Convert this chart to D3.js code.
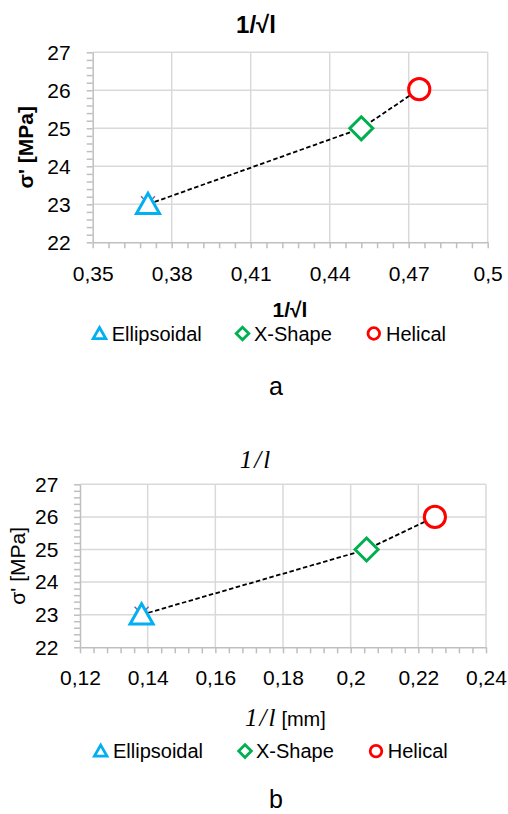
<!DOCTYPE html>
<html><head><meta charset="utf-8">
<script src="https://cdn.jsdelivr.net/npm/d3@7"></script>
<style>
body{margin:0;background:#fff}
svg{display:block;font-family:"Liberation Sans",Arial,sans-serif}
</style></head><body><svg id="c" width="508" height="814"></svg>
<script>
// Series shared by both panels
const seriesNames = ["Ellipsoidal", "X-Shape", "Helical"];
const seriesColors = ["#00b0f0", "#00b050", "#ff0000"];
const seriesShapes = ["triangle", "diamond", "circle"];

// Panel a: stress vs 1/sqrt(l)
const invSqrtL = [0.371, 0.452, 0.474];
const sigmaA = [23.0, 25.0, 26.03];
const xTicksA = [0.35, 0.38, 0.41, 0.44, 0.47, 0.5];

// Panel b: stress vs 1/l
const invL = [0.1382, 0.2047, 0.2249];
const sigmaB = [23.0, 25.0, 26.0];
const xTicksB = [0.12, 0.14, 0.16, 0.18, 0.2, 0.22, 0.24];

const yTicks = [22, 23, 24, 25, 26, 27];

const comma = d3.formatLocale({decimal: ",", thousands: ".", grouping: [3], currency: ["", ""]});
const fmtX = comma.format("~g");

const svg = d3.select("#c");
const GRID = "#d9d9d9", AXIS = "#bfbfbf";

function subTicks(ticks, n) {
  const out = [];
  for (let i = 0; i < ticks.length - 1; i++) {
    const step = (ticks[i + 1] - ticks[i]) / n;
    for (let k = 1; k < n; k++) out.push(ticks[i] + k * step);
  }
  return out;
}

function markerPath(shape, s) {
  if (shape === "triangle") return `M0,${-s * 0.95}L${s},${s * 0.8}L${-s},${s * 0.8}Z`;
  return `M0,${-s}L${s},0L0,${s}L${-s},0Z`;
}

function drawMarker(g, shape, color, x, y, s, sw) {
  if (shape === "circle") {
    g.append("circle").attr("cx", x).attr("cy", y).attr("r", s * 0.92)
      .attr("fill", "#fff").attr("stroke", color).attr("stroke-width", sw);
  } else {
    g.append("path").attr("d", markerPath(shape, s)).attr("transform", `translate(${x},${y})`)
      .attr("fill", "#fff").attr("stroke", color).attr("stroke-width", sw)
      .attr("stroke-linejoin", "miter");
  }
}

function panel(cfg) {
  const g = svg.append("g");
  const x = d3.scaleLinear().domain([cfg.xTicks[0], cfg.xTicks[cfg.xTicks.length - 1]]).range([cfg.left, cfg.right]);
  const y = d3.scaleLinear().domain([yTicks[0], yTicks[yTicks.length - 1]]).range([cfg.bottom, cfg.top]);

  // gridlines
  g.append("g").selectAll("line").data(cfg.xTicks.slice(1)).join("line")
    .attr("x1", d => x(d)).attr("x2", d => x(d)).attr("y1", cfg.top).attr("y2", cfg.bottom)
    .attr("stroke", GRID).attr("stroke-width", 1.5);
  g.append("g").selectAll("line").data(yTicks.slice(1)).join("line")
    .attr("x1", cfg.left).attr("x2", cfg.right).attr("y1", d => y(d)).attr("y2", d => y(d))
    .attr("stroke", GRID).attr("stroke-width", 1.5);

  // minor ticks
  g.append("g").attr("transform", `translate(0,${cfg.bottom})`)
    .call(d3.axisBottom(x).tickValues(subTicks(cfg.xTicks, 5)).tickSize(6).tickSizeOuter(0).tickFormat(""))
    .call(a => a.select(".domain").remove());
  g.append("g").attr("transform", `translate(${cfg.left},0)`)
    .call(d3.axisLeft(y).tickValues(subTicks(yTicks, 5)).tickSize(6).tickSizeOuter(0).tickFormat(""))
    .call(a => a.select(".domain").remove());

  // major axes
  const ax = g.append("g").attr("transform", `translate(0,${cfg.bottom})`)
    .call(d3.axisBottom(x).tickValues(cfg.xTicks).tickSize(6).tickSizeOuter(0).tickPadding(cfg.xPad).tickFormat(fmtX));
  const ay = g.append("g").attr("transform", `translate(${cfg.left},0)`)
    .call(d3.axisLeft(y).tickValues(yTicks).tickSize(6).tickSizeOuter(0).tickPadding(cfg.yPad).tickFormat(d3.format("d")));
  g.selectAll(".tick line").attr("stroke", AXIS).attr("stroke-width", 1.5);
  g.selectAll(".domain").attr("stroke", AXIS).attr("stroke-width", 1.5);
  [ax, ay].forEach(a => a.selectAll("text").attr("font-size", 21).attr("fill", "#000")
    .attr("font-family", "'Liberation Sans', Arial, sans-serif"));

  // dashed connector
  const pts = cfg.xs.map((v, i) => [x(v), y(cfg.ys[i])]);
  g.append("path").attr("d", d3.line()(pts)).attr("fill", "none")
    .attr("stroke", "#000").attr("stroke-width", 1.8).attr("stroke-dasharray", "4.5,2.5");

  // hidden series cross under the first point
  const cx = pts[0][0], cy = pts[0][1];
  g.append("path").attr("d", `M${cx - 7},${cy - 8}L${cx + 7},${cy + 6}M${cx + 7},${cy - 8}L${cx - 7},${cy + 6}`)
    .attr("stroke", "#8064a2").attr("stroke-width", 1.5);

  pts.forEach((p, i) => drawMarker(g, seriesShapes[i], seriesColors[i], p[0], p[1], 11.5, 3));

  // legend
  cfg.legendX.forEach((lx, i) => {
    drawMarker(g, seriesShapes[i], seriesColors[i], lx, cfg.legendY - 7.2, 6.3, 2.8);
    g.append("text").attr("x", cfg.legendTextX[i]).attr("y", cfg.legendY)
      .attr("font-size", 20).text(seriesNames[i]);
  });

  // panel letter
  g.append("text").attr("x", 276).attr("y", cfg.letterY).attr("text-anchor", "middle")
    .attr("font-size", 25).text(cfg.letter);
  return g;
}

const gA = panel({
  left: 92.7, right: 487.7, top: 52.3, bottom: 242.3,
  xTicks: xTicksA, xs: invSqrtL, ys: sigmaA, xPad: 18, yPad: 16,
  legendX: [99.5, 242.5, 373.8], legendTextX: [111.7, 254, 386], legendY: 340.7,
  letter: "a", letterY: 395
});
gA.append("text").attr("x", 256).attr("y", 33).attr("text-anchor", "middle")
  .attr("font-size", 24).attr("font-weight", "bold").text("1/√l");
gA.append("text").attr("x", 290).attr("y", 316.5).attr("text-anchor", "middle")
  .attr("font-size", 21).attr("font-weight", "bold").text("1/√l");
gA.append("text").attr("transform", "translate(33,147.3) rotate(-90)").attr("text-anchor", "middle")
  .attr("font-size", 21).attr("font-weight", "bold").text("σ' [MPa]");

const gB = panel({
  left: 80, right: 486, top: 484.3, bottom: 647.3,
  xTicks: xTicksB, xs: invL, ys: sigmaB, xPad: 16.8, yPad: 15.7,
  legendX: [100.7, 245, 376], legendTextX: [113, 256, 387.7], legendY: 758.3,
  letter: "b", letterY: 808
});
gB.append("text").attr("x", 256).attr("y", 467.5).attr("text-anchor", "middle")
  .attr("font-family", "'Liberation Serif', 'Times New Roman', serif").attr("font-style", "italic")
  .attr("font-size", 25).attr("letter-spacing", 2).text("1/l");
const xt = gB.append("text").attr("x", 245).attr("y", 726);
xt.append("tspan").attr("font-family", "'Liberation Serif', 'Times New Roman', serif")
  .attr("font-style", "italic").attr("font-size", 25).attr("letter-spacing", 2).text("1/l");
xt.append("tspan").attr("font-size", 20).attr("dx", 4).text("[mm]");
gB.append("text").attr("transform", "translate(24.5,565.8) rotate(-90)").attr("text-anchor", "middle")
  .attr("font-size", 21).text("σ' [MPa]");
</script></body></html>
